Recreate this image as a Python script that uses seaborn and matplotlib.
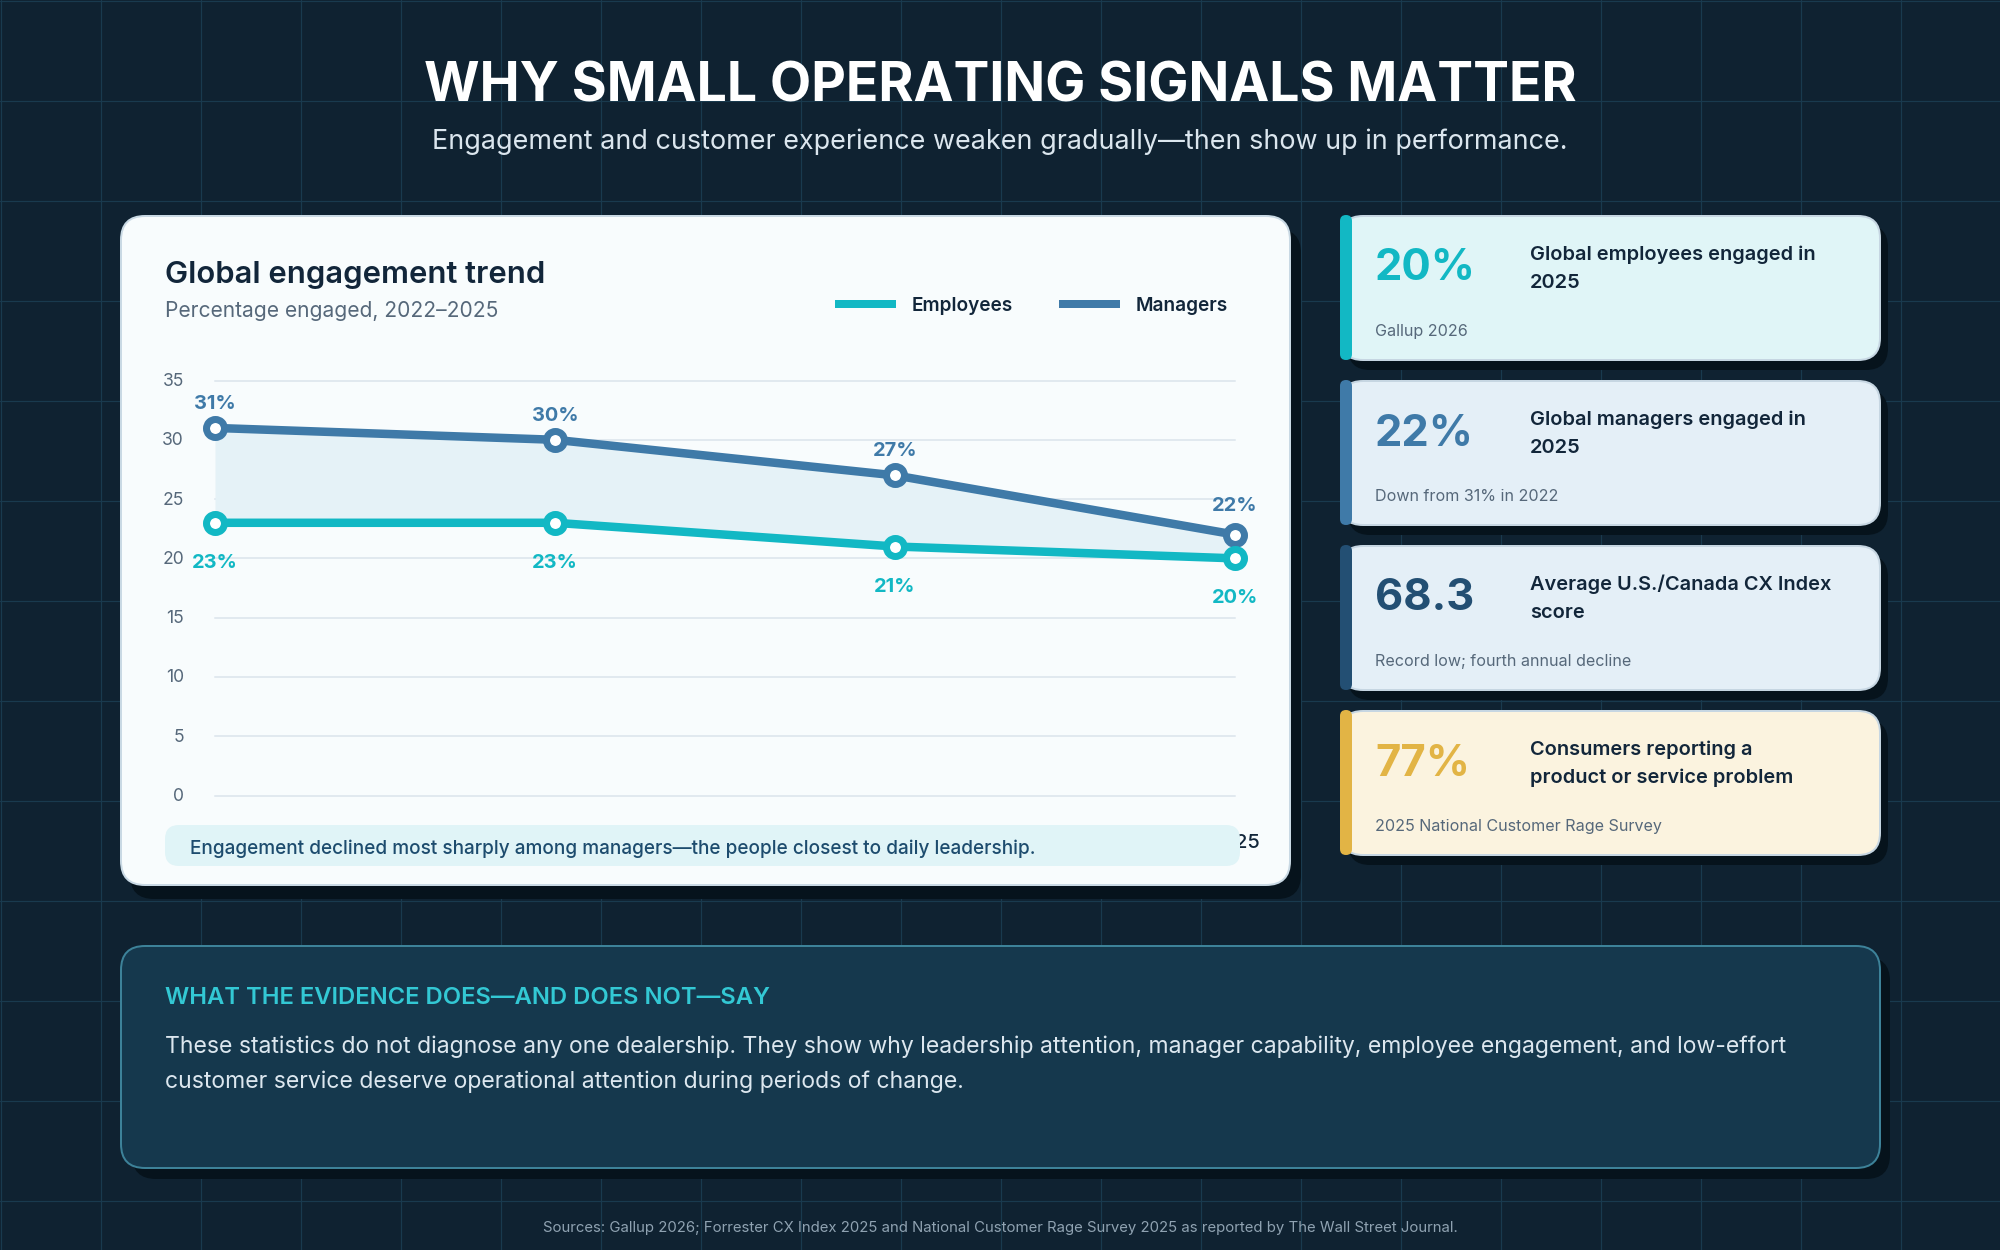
import numpy as np
import pandas as pd
import matplotlib
matplotlib.use("Agg")
import matplotlib.pyplot as plt
from matplotlib.lines import Line2D
from matplotlib.patches import FancyBboxPatch
from matplotlib.transforms import ScaledTranslation
import seaborn as sns

# dados do grafico
YEARS = [2022, 2023, 2024, 2025]
EMPLOYEES = [23, 23, 21, 20]
MANAGERS = [31, 30, 27, 22]
Y_TICKS = [0, 5, 10, 15, 20, 25, 30, 35]

CARD_VALUES = ["20%", "22%", "68.3", "77%"]
CARD_LABELS = [
    "Global employees engaged in\n2025",
    "Global managers engaged in\n2025",
    "Average U.S./Canada CX Index\nscore",
    "Consumers reporting a\nproduct or service problem",
]
CARD_NOTES = [
    "Gallup 2026",
    "Down from 31% in 2022",
    "Record low; fourth annual decline",
    "2025 National Customer Rage Survey",
]

# cores
BG = "#0f2231"
BG_GRID = "#193a4e"
SHADOW = "#06131c"
INK = "#12263a"
MUTED = "#56687a"
TEAL = "#12b8c4"
BLUE = "#3f7aa8"
NAVY = "#234f73"
GOLD = "#e2b445"
CARD_FILLS = ["#e0f5f7", "#e4eff7", "#e4eff7", "#fbf3df"]
CARD_ACCENTS = [TEAL, BLUE, NAVY, GOLD]
CARD_VALUE_COLORS = [TEAL, BLUE, NAVY, GOLD]

sns.set_theme(style="white")
plt.rcParams["font.family"] = ["Inter", "DejaVu Sans"]


def px(size):
    """Converte pixels para pontos (dpi 100)."""
    return size * 0.72


def rounded(ax, x0, y0, x1, y1, radius, fill, edge="none", lw=0.0, zorder=1):
    patch = FancyBboxPatch(
        (x0, y0), x1 - x0, y1 - y0,
        boxstyle=f"round,pad=0,rounding_size={radius}",
        facecolor=fill, edgecolor=edge, linewidth=px(lw), zorder=zorder,
    )
    ax.add_patch(patch)
    return patch


fig = plt.figure(figsize=(20, 12.5), dpi=100, facecolor=BG)

# camada de fundo em pixels
bg = fig.add_axes([0, 0, 1, 1], zorder=0)
bg.set_xlim(0, 2000)
bg.set_ylim(1250, 0)
bg.axis("off")
for gx in np.arange(0, 2001, 100):
    bg.add_line(Line2D([gx + 0.5, gx + 0.5], [0, 1250], color=BG_GRID, lw=px(1.2), zorder=0))
for gy in np.arange(0, 1251, 100):
    bg.add_line(Line2D([0, 2000], [gy + 0.5, gy + 0.5], color=BG_GRID, lw=px(1.2), zorder=0))

# cartao principal
rounded(bg, 130, 229, 1301, 899, 24, SHADOW, zorder=1)
rounded(bg, 121, 216, 1290, 885, 24, "#f8fcfd", edge="#c9d9e4", lw=2, zorder=2)

# cartoes da direita
for i in range(4):
    top = 215 + 165 * i
    rounded(bg, 1348, top + 10, 1888, top + 155, 22, SHADOW, zorder=1)
    rounded(bg, 1341, top + 1, 1880, top + 145, 22, CARD_FILLS[i], edge="#c6d6e2", lw=2, zorder=2)

# painel inferior
rounded(bg, 132, 957, 1890, 1179, 24, SHADOW, zorder=1)
rounded(bg, 121, 946, 1880, 1168, 24, "#15384d", edge="#3d8299", lw=2, zorder=2)

# grafico
ax = fig.add_axes([215 / 2000, 1 - 795.5 / 1250, 1020 / 2000, 415 / 1250], zorder=1)
ax.patch.set_visible(False)

df = pd.DataFrame({"year": YEARS, "Employees": EMPLOYEES, "Managers": MANAGERS})
ax.fill_between(df["year"], df["Employees"], df["Managers"], color="#e5f2f7", lw=0, zorder=2)

for col, color in [("Managers", BLUE), ("Employees", TEAL)]:
    sns.lineplot(
        data=df, x="year", y=col, ax=ax, color=color,
        linewidth=px(8.5), marker="o", markersize=px(18),
        markerfacecolor="white", markeredgecolor=color, markeredgewidth=px(7),
        clip_on=False, zorder=3, solid_joinstyle="miter",
    )

ax.set_xlim(YEARS[0], YEARS[-1])
ax.set_ylim(0, 35)
ax.set_xlabel("")
ax.set_ylabel("")
ax.set_xticks(YEARS)
ax.set_xticklabels([str(y) for y in YEARS], fontsize=px(20), fontweight=500, color=INK)
ax.set_yticks(Y_TICKS)
ax.set_yticklabels([str(v) for v in Y_TICKS], fontsize=px(17.5), color=MUTED)
ax.tick_params(axis="x", length=0, pad=px(38))
ax.tick_params(axis="y", length=0, pad=px(31))
ax.grid(axis="y", color="#e1e9ef", linewidth=px(2), clip_on=False, zorder=1)
ax.grid(axis="x", visible=False)
ax.set_axisbelow(True)
sns.despine(ax=ax, left=True, bottom=True)

# sobe os rotulos do eixo y em 1 pixel
up = ScaledTranslation(0, 1 / 100, fig.dpi_scale_trans)
for tick_label in ax.get_yticklabels():
    tick_label.set_transform(tick_label.get_transform() + up)

for i, year in enumerate(YEARS):
    dy = 29 if i == len(YEARS) - 1 else 24
    ax.annotate(f"{MANAGERS[i]}%", (year, MANAGERS[i]), xytext=(0, px(dy)),
                textcoords="offset points", ha="center", va="center",
                fontsize=px(20), fontweight=700, color=BLUE, annotation_clip=False)
    ax.annotate(f"{EMPLOYEES[i]}%", (year, EMPLOYEES[i]), xytext=(0, -px(40)),
                textcoords="offset points", ha="center", va="center",
                fontsize=px(20), fontweight=700, color=TEAL, annotation_clip=False)

handles = [Line2D([], [], color=TEAL, lw=px(8), solid_capstyle="butt"),
           Line2D([], [], color=BLUE, lw=px(8), solid_capstyle="butt")]
fig.legend(
    handles, ["Employees", "Managers"], ncol=2, frameon=False,
    loc="center left", bbox_to_anchor=(835 / 2000, 1 - 306 / 1250),
    prop={"size": px(19), "weight": 600}, labelcolor=INK,
    handlelength=3.2, handletextpad=0.82, columnspacing=2.45,
    borderpad=0, borderaxespad=0,
)

# camada de cima: textos e caixa de nota
top = fig.add_axes([0, 0, 1, 1], zorder=2)
top.set_xlim(0, 2000)
top.set_ylim(1250, 0)
top.axis("off")
top.patch.set_visible(False)


def label(x, y, s, size, color, weight=400, ha="left", linespacing=None):
    kw = {"linespacing": linespacing} if linespacing else {}
    top.text(x, y, s, fontsize=px(size), color=color, fontweight=weight,
             ha=ha, va="center", **kw)


label(1000, 87, "WHY SMALL OPERATING SIGNALS MATTER", 53.6, "white", 700, ha="center")
label(1000, 142, "Engagement and customer experience weaken gradually\u2014then show up in performance.",
      26.9, "#dbe6ee", ha="center")

label(165, 275, "Global engagement trend", 31, INK, 600)
label(165, 311, "Percentage engaged, 2022\u20132025", 21, MUTED)

rounded(top, 165, 825, 1240, 866, 14, "#e0f4f7")
label(190, 849, "Engagement declined most sharply among managers\u2014the people closest to daily leadership.",
      19, "#1d4c6e", 500)

for i in range(4):
    y0 = 215 + 165 * i
    rounded(top, 1340, y0, 1352, y0 + 145, 6, CARD_ACCENTS[i])
    label(1375, y0 + 54, CARD_VALUES[i], 43.5, CARD_VALUE_COLORS[i], 700)
    label(1530, y0 + 53.5, CARD_LABELS[i], 20, INK, 600, linespacing=1.68)
    label(1375, y0 + 116.5, CARD_NOTES[i], 16.1, MUTED)

label(165, 998, "WHAT THE EVIDENCE DOES\u2014AND DOES NOT\u2014SAY", 23.8, "#33c8d4", 600)
label(165, 1047, "These statistics do not diagnose any one dealership. They show why leadership attention, "
      "manager capability, employee engagement, and low-effort", 22.97, "#dce7ef")
label(165, 1082, "customer service deserve operational attention during periods of change.", 22.97, "#dce7ef")
label(1000, 1228, "Sources: Gallup 2026; Forrester CX Index 2025 and National Customer Rage Survey 2025 "
      "as reported by The Wall Street Journal.", 14.95, "#8fa2b1", ha="center")

fig.savefig("out.png", dpi=100, facecolor=BG)
plt.close(fig)
